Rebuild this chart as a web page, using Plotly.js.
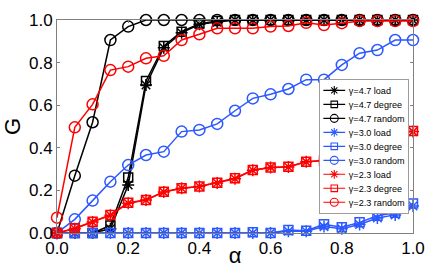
<!DOCTYPE html>
<html>
<head>
<meta charset="utf-8">
<script src="https://cdn.plot.ly/plotly-3.0.1.min.js"></script>
<style>html,body{margin:0;padding:0;background:#fff;}#chart{width:436px;height:268px;}</style>
</head>
<body>
<div id="chart"></div>
<script>
const alpha = [0,0.05,0.1,0.15,0.2,0.25,0.3,0.35,0.4,0.45,0.5,0.55,0.6,0.65,0.7,0.75,0.8,0.85,0.9,0.95,1.0];

const g47Load   = [0,0,0,0.02,0.225,0.695,0.87,0.94,0.98,0.99,1,1,1,1,1,1,1,1,1,1,1];
const g47Degree = [0,0,0,0.035,0.26,0.714,0.878,0.945,0.983,0.995,1,1,1,1,1,1,1,1,1,1,1];
const g47Random = [0,0.269,0.52,0.906,0.969,1,1,1,1,1,1,1,1,1,1,1,1,1,1,1,1];

const g30Load   = [0,0,0,0,0,0,0,0,0,0,0,0,0,0.008,0.008,0.03,0.02,0.04,0.07,0.085,0.127];
const g30Degree = [0,0,0,0,0,0,0,0,0,0,0,0.003,0,0.014,0.011,0.041,0.027,0.05,0.081,0.095,0.139];
const g30Random = [0,0.064,0.152,0.241,0.319,0.366,0.382,0.476,0.484,0.512,0.574,0.632,0.651,0.676,0.72,0.72,0.789,0.844,0.859,0.906,0.906];

const g23Load   = [0,0.02,0.052,0.083,0.14,0.155,0.192,0.21,0.218,0.235,0.255,0.295,0.308,0.31,0.334,0.34,0.37,0.4,0.44,0.47,0.476];
const g23Degree = [0,0.022,0.053,0.085,0.142,0.155,0.194,0.21,0.218,0.236,0.257,0.296,0.308,0.311,0.335,0.34,0.37,0.4,0.44,0.47,0.479];
const g23Random = [0.072,0.496,0.604,0.765,0.781,0.82,0.832,0.906,0.933,0.961,0.961,0.961,0.969,0.972,0.987,0.976,0.985,0.995,0.995,0.995,0.995];

const names = ['γ=4.7 load','γ=4.7 degree','γ=4.7 random','γ=3.0 load','γ=3.0 degree','γ=3.0 random','γ=2.3 load','γ=2.3 degree','γ=2.3 random'];
const series = [g47Load,g47Degree,g47Random,g30Load,g30Degree,g30Random,g23Load,g23Degree,g23Random];
const colors = ['#000000','#000000','#000000','#2b58ff','#2b58ff','#2b58ff','#ff0000','#ff0000','#ff0000'];
const symbols = ['asterisk-open','square-open','circle-open'];
const sizes = [10,9,11];

const traces = series.map((ys,i) => ({
  x: alpha, y: ys, name: names[i], type: 'scatter', mode: 'lines+markers',
  cliponaxis: false,
  line: {color: colors[i], width: 1.5},
  marker: {symbol: symbols[i%3], size: sizes[i%3], color: colors[i], line: {color: colors[i], width: 1.5}}
}));

const legendX = 0.736, legendY = 0.723, legendScale = 0.727;

const layout = {
  width: 436, height: 268,
  margin: {l:57, r:23, t:20, b:35},
  paper_bgcolor: '#fff', plot_bgcolor: '#fff',
  font: {family: 'Liberation Sans, Arial, sans-serif', color: '#000'},
  showlegend: true,
  legend: {x: 0.01, y: 0.99, xanchor: 'left', yanchor: 'top', bgcolor: '#fff', bordercolor: '#777', borderwidth: 1,
           font: {size: 12.5, family: 'Liberation Sans, Arial, sans-serif'}, tracegroupgap: 0, itemwidth: 30},
  xaxis: {range: [0,1], tickvals: [0,0.2,0.4,0.6,0.8,1.0], ticktext: ['0.0','0.2','0.4','0.6','0.8','1.0'],
          automargin: false,
          showgrid: false, zeroline: false, showline: true, mirror: 'ticks', linecolor: '#808080', linewidth: 1,
          ticks: 'inside', ticklen: 3, tickcolor: '#808080', tickfont: {size: 17},
          title: {text: 'α', font: {size: 22}}},
  yaxis: {range: [0,1], tickvals: [0,0.2,0.4,0.6,0.8,1.0], ticktext: ['0.0','0.2','0.4','0.6','0.8','1.0'],
          automargin: false,
          showgrid: false, zeroline: false, showline: true, mirror: 'ticks', linecolor: '#808080', linewidth: 1,
          ticks: 'inside', ticklen: 3, tickcolor: '#808080', tickfont: {size: 17},
          title: {text: 'G', font: {size: 22}}}
};

Plotly.newPlot('chart', traces, layout, {displayModeBar: false, staticPlot: true}).then(gd => {
  const lg = gd.querySelector('.legend');
  const s = gd._fullLayout._size;
  if (lg) {
    const tx = s.l + legendX * s.w;
    const ty = s.t + (1 - legendY) * s.h;
    lg.setAttribute('transform', `translate(${tx},${ty}) scale(${legendScale})`);
  }
});
</script>
</body>
</html>
